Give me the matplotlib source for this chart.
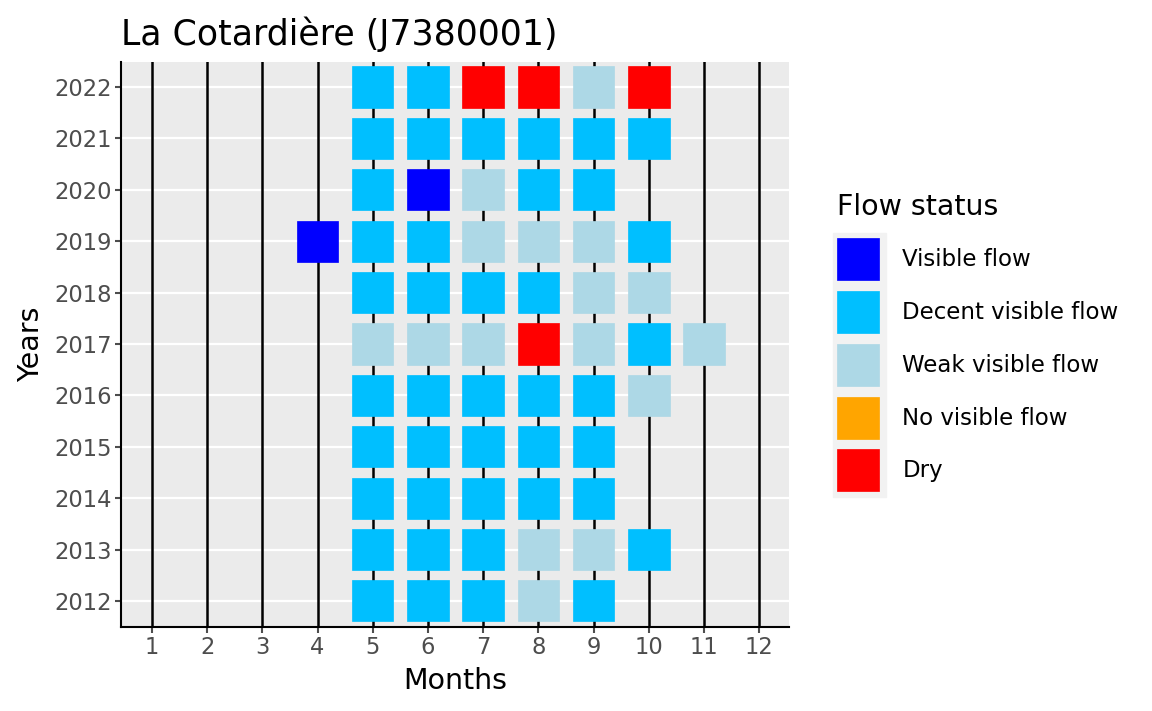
import numpy as np
import matplotlib
matplotlib.use("Agg")
import matplotlib.pyplot as plt
from matplotlib.patches import Patch, Rectangle

# flow status per year, months 1..12 (missing month = no observation)
years = [2022, 2021, 2020, 2019, 2018, 2017, 2016, 2015, 2014, 2013, 2012]
status = {
    2022: {5: "D", 6: "D", 7: "Dry", 8: "Dry", 9: "W", 10: "Dry"},
    2021: {5: "D", 6: "D", 7: "D", 8: "D", 9: "D", 10: "D"},
    2020: {5: "D", 6: "V", 7: "W", 8: "D", 9: "D"},
    2019: {4: "V", 5: "D", 6: "D", 7: "W", 8: "W", 9: "W", 10: "D"},
    2018: {5: "D", 6: "D", 7: "D", 8: "D", 9: "W", 10: "W"},
    2017: {5: "W", 6: "W", 7: "W", 8: "Dry", 9: "W", 10: "D", 11: "W"},
    2016: {5: "D", 6: "D", 7: "D", 8: "D", 9: "D", 10: "W"},
    2015: {5: "D", 6: "D", 7: "D", 8: "D", 9: "D"},
    2014: {5: "D", 6: "D", 7: "D", 8: "D", 9: "D"},
    2013: {5: "D", 6: "D", 7: "D", 8: "W", 9: "W", 10: "D"},
    2012: {5: "D", 6: "D", 7: "D", 8: "W", 9: "D"},
}
codes = ["V", "D", "W", "N", "Dry"]
labels = ["Visible flow", "Decent visible flow", "Weak visible flow",
          "No visible flow", "Dry"]
colors = ["#0000FF", "#00BFFF", "#ADD8E6", "#FFA500", "#FF0000"]
months = list(range(1, 13))

cmap = dict(zip(codes, colors))

fig = plt.figure(figsize=(11.52, 7.11), dpi=100)
ax = fig.add_axes([0.105, 0.118, 0.58, 0.795])
ax.set_facecolor("#EBEBEB")

for y in years:
    ax.axhline(y, color="white", lw=1.6, zorder=0)
for m in months:
    ax.axvline(m, color="black", lw=1.8, zorder=1)

xs, ys, cs = [], [], []
for y in years:
    for m, s in status[y].items():
        xs.append(m)
        ys.append(y)
        cs.append(cmap[s])
ax.bar(xs, 0.8, bottom=np.array(ys) - 0.4, width=0.75, color=cs,
       edgecolor=cs, linewidth=0.5, zorder=2)

ax.set_xlim(0.44, 12.54)
ax.set_ylim(2011.49, 2022.49)
ax.set_xticks(months)
ax.set_yticks(years)
ax.tick_params(labelsize=16.3, colors="#4D4D4D", length=4, width=1.5, pad=2.5)
for s in ["top", "right"]:
    ax.spines[s].set_visible(False)
for s in ["left", "bottom"]:
    ax.spines[s].set_linewidth(1.5)
    ax.spines[s].set_color("black")

ax.set_xlabel("Months", fontsize=20.5, labelpad=6)
ax.set_ylabel("Years", fontsize=20.5, labelpad=7)
ax.set_title("La Cotardière (J7380001)", fontsize=25, loc="left", pad=12)

# legend key background
fig.patches.append(Rectangle((833 / 1152, 1 - 497 / 711), 53 / 1152, 264 / 711,
                             transform=fig.transFigure, color="#F2F2F2", zorder=0))
handles = [Patch(facecolor=c, edgecolor=c, linewidth=0.5) for c in colors]
leg = fig.legend(handles, labels, loc="upper left",
                 bbox_to_anchor=(832 / 1152, 1 - 188 / 711),
                 frameon=False, fontsize=16.5, title="Flow status",
                 title_fontsize=20.5, handlelength=1.83, handleheight=2.44,
                 labelspacing=0.47, handletextpad=1.04, borderaxespad=0,
                 borderpad=0.2)
leg._legend_box.align = "left"
leg._legend_box.sep = 12.8  # extra gap between title and keys

fig.savefig("out.png", dpi=100)
